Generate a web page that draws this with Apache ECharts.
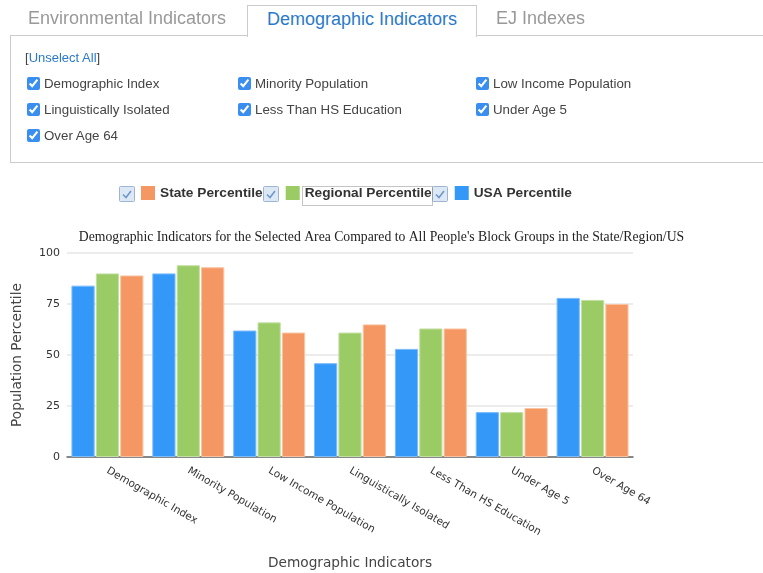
<!DOCTYPE html>
<html>
<head>
<meta charset="utf-8">
<script src="https://cdn.jsdelivr.net/npm/echarts@6/dist/echarts.min.js"></script>
<style>
  body { margin: 0; width: 763px; height: 573px; overflow: hidden; background: #fff; font-family: "Liberation Sans", Arial, sans-serif; }
  #chart { position: absolute; left: 0; top: 0; width: 763px; height: 573px; }
  .tab { position: absolute; top: 5px; height: 31px; line-height: 27px; font-size: 18px; color: #999; }
  .tab.active { left: 247px; width: 228px; border: 1px solid #ccc; border-bottom: none; background: #fff; color: #2a7ac9; text-align: center; z-index: 2; height: 31px; }
  .panel { position: absolute; left: 10px; top: 35px; width: 770px; height: 126px; border: 1px solid #ccc; z-index: 1; }
  .unsel { position: absolute; left: 14px; top: 14px; font-size: 13px; color: #444; }
  .unsel a { color: #2a7ac9; text-decoration: none; }
  .cb { position: absolute; font-size: 13.3px; color: #444; white-space: nowrap; }
  .cb input { margin: 0 4px 0 0; width: 13px; height: 13px; vertical-align: -2px; accent-color: #3a8ef0; }
</style>
</head>
<body>
<div id="chart"></div>
<div class="tab" style="left:28px">Environmental Indicators</div>
<div class="tab active">Demographic Indicators</div>
<div class="tab" style="left:496px">EJ Indexes</div>
<div class="panel">
  <div class="unsel">[<a href="#">Unselect All</a>]</div>
  <div class="cb" style="left:16px;top:40px"><input type="checkbox" checked>Demographic Index</div>
  <div class="cb" style="left:227px;top:40px"><input type="checkbox" checked>Minority Population</div>
  <div class="cb" style="left:465px;top:40px"><input type="checkbox" checked>Low Income Population</div>
  <div class="cb" style="left:16px;top:66px"><input type="checkbox" checked>Linguistically Isolated</div>
  <div class="cb" style="left:227px;top:66px"><input type="checkbox" checked>Less Than HS Education</div>
  <div class="cb" style="left:465px;top:66px"><input type="checkbox" checked>Under Age 5</div>
  <div class="cb" style="left:16px;top:92px"><input type="checkbox" checked>Over Age 64</div>
</div>
<script>
var categories = ["Demographic Index", "Minority Population", "Low Income Population",
  "Linguistically Isolated", "Less Than HS Education", "Under Age 5", "Over Age 64"];
var usaValues = [84, 90, 62, 46, 53, 22, 78];
var regionalValues = [90, 94, 66, 61, 63, 22, 77];
var stateValues = [89, 93, 61, 65, 63, 24, 75];
var yTicks = [0, 25, 50, 75, 100];

// checkbox drawn in front of each legend item
function legendCheck(x) {
  return {
    type: "group",
    left: x,
    top: 186,
    children: [
      { type: "rect", shape: { x: 0, y: 0, width: 15, height: 15, r: 1 },
        style: { fill: "#dce8f6", stroke: "#9fb5cf", lineWidth: 1 } },
      { type: "polyline", shape: { points: [[3.5, 8], [6.5, 11], [11.5, 4.5]] },
        style: { stroke: "#6f97c6", lineWidth: 1.6, fill: null } }
    ]
  };
}

var myChart = echarts.init(document.getElementById("chart"));
myChart.setOption({
  animation: false,
  title: {
    text: "Demographic Indicators for the Selected Area Compared to All People's Block Groups in the State/Region/US",
    left: "center",
    top: 230,
    padding: 0,
    textStyle: { fontFamily: "Liberation Serif", fontSize: 13.7, fontWeight: "normal", color: "#222" }
  },
  legend: {
    left: 141,
    top: 186,
    padding: 0,
    icon: "rect",
    itemWidth: 14,
    itemHeight: 14,
    itemGap: 23,
    itemStyle: { borderWidth: 0 },
    data: ["State Percentile", "Regional Percentile", "USA Percentile"],
    textStyle: { fontFamily: "Liberation Sans", fontSize: 13.7, fontWeight: "bold", color: "#333" }
  },
  graphic: [
    legendCheck(119),
    legendCheck(263),
    legendCheck(432),
    { type: "rect", left: 300, top: 184, shape: { width: 130, height: 19 },
      style: { fill: null, stroke: "#888", lineWidth: 1, lineDash: [1, 1] } }
  ],
  grid: { left: 67, right: 130, top: 253, bottom: 116, outerBoundsMode: "none", containLabel: false },
  xAxis: {
    type: "category",
    data: categories,
    name: "Demographic Indicators",
    nameLocation: "middle",
    nameGap: 99,
    nameTextStyle: { fontFamily: "DejaVu Sans", fontSize: 13.7, color: "#444" },
    axisLine: { lineStyle: { color: "#666", width: 1.5 } },
    axisTick: { show: false },
    axisLabel: { rotate: -30, margin: 13, fontFamily: "DejaVu Sans", fontSize: 10.5, color: "#333" }
  },
  yAxis: {
    type: "value",
    min: yTicks[0],
    max: yTicks[yTicks.length - 1],
    interval: 25,
    name: "Population Percentile",
    nameLocation: "middle",
    nameRotate: 90,
    nameGap: 43,
    nameTextStyle: { fontFamily: "DejaVu Sans", fontSize: 13.7, color: "#444" },
    axisLine: { show: false },
    axisTick: { show: false },
    axisLabel: { margin: 7, fontFamily: "DejaVu Sans", fontSize: 11, color: "#333" },
    splitLine: { lineStyle: { color: "#e6e6e6", width: 1.5 } }
  },
  series: [
    { name: "USA Percentile", type: "bar", data: usaValues, barGap: "5%", barCategoryGap: "11%",
      itemStyle: { color: "#3498f8", borderColor: "#7cbcfb", borderWidth: 1 } },
    { name: "Regional Percentile", type: "bar", data: regionalValues,
      itemStyle: { color: "#9bcb65", borderColor: "#c3e0a3", borderWidth: 1 } },
    { name: "State Percentile", type: "bar", data: stateValues,
      itemStyle: { color: "#f49762", borderColor: "#f9c3a2", borderWidth: 1 } }
  ]
});
</script>
</body>
</html>
